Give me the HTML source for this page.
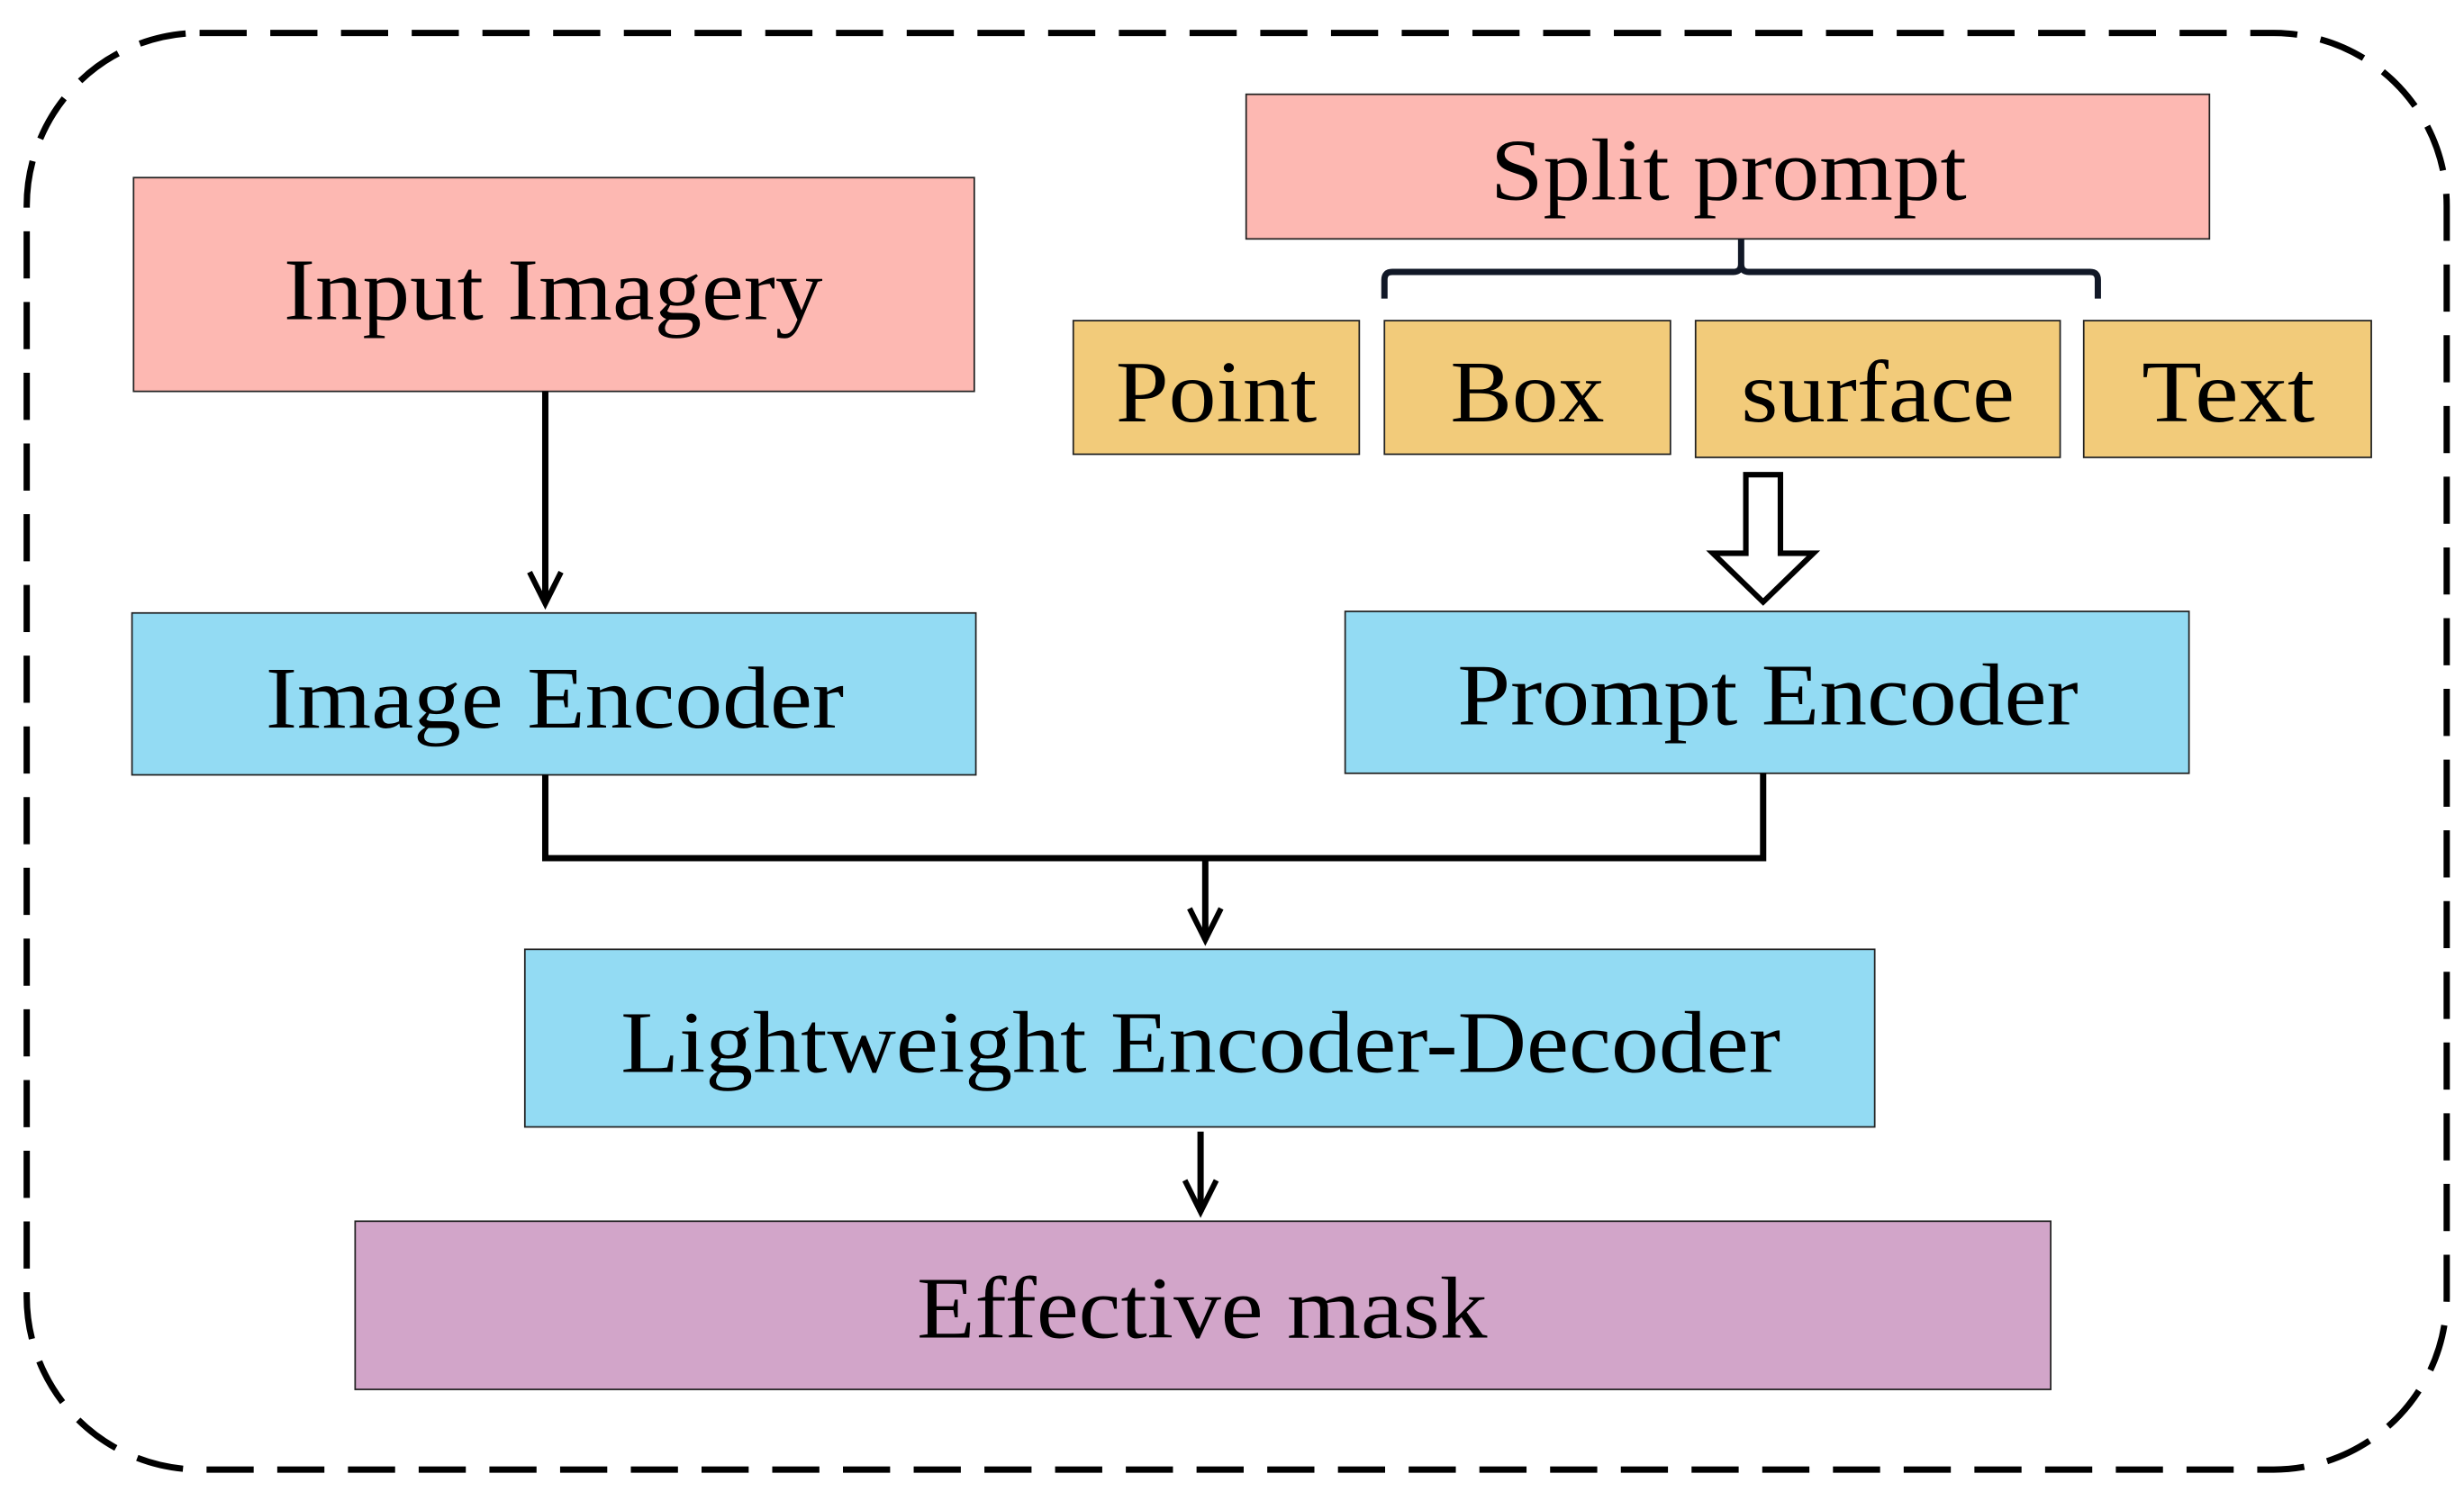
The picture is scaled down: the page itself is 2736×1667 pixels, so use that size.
<!DOCTYPE html>
<html><head><meta charset="utf-8"><style>
html,body{margin:0;padding:0;background:#fff;}
svg{display:block;}
text{font-family:"Liberation Serif",serif;fill:#000;}
</style></head><body>
<svg width="2736" height="1667" viewBox="0 0 1568 955" preserveAspectRatio="none" xmlns="http://www.w3.org/2000/svg">
<rect x="17" y="21" width="1540" height="914" rx="110" ry="110" fill="none" stroke="#000" stroke-width="4" stroke-dasharray="30,15"/>
<g stroke="#222" stroke-width="1">
<rect x="85" y="113" width="535" height="136" fill="#FDB8B2"/>
<rect x="793" y="60" width="613" height="92" fill="#FDB8B2"/>
<rect x="683" y="204" width="182" height="85" fill="#F2CB7A"/>
<rect x="881" y="204" width="182" height="85" fill="#F2CB7A"/>
<rect x="1079" y="204" width="232" height="87" fill="#F2CB7A"/>
<rect x="1326" y="204" width="183" height="87" fill="#F2CB7A"/>
<rect x="84" y="390" width="537" height="103" fill="#93DBF3"/>
<rect x="856" y="389" width="537" height="103" fill="#93DBF3"/>
<rect x="334" y="604" width="859" height="113" fill="#93DBF3"/>
<rect x="226" y="777" width="1079" height="107" fill="#D2A5C9"/>
</g>
<g fill="none" stroke="#000" stroke-width="4">
<path d="M881,190 V178 Q881,173 886,173 H1103 Q1108,173 1108,168 V152 M1108,168 Q1108,173 1113,173 H1330 Q1335,173 1335,178 V190" stroke="#111827"/>
<path d="M347,249 V384"/>
<path d="M337,364 L347,384 L357,364" stroke-width="3.5"/>
<path d="M347,493 V546 H1122 V492"/>
<path d="M767,546 V598"/>
<path d="M757,578 L767,598 L777,578" stroke-width="3.5"/>
<path d="M764,720 V771"/>
<path d="M754,751 L764,771 L774,751" stroke-width="3.5"/>
<path d="M1111,302 H1133 V352 H1154 L1122,383 L1090,352 H1111 Z" fill="#fff" stroke-width="3.5"/>
</g>
<g font-size="56" text-anchor="middle">
<text x="352" y="203" textLength="343" lengthAdjust="spacingAndGlyphs">Input Imagery</text>
<text x="1100" y="127" textLength="303" lengthAdjust="spacingAndGlyphs">Split prompt</text>
<text x="774" y="268" textLength="128" lengthAdjust="spacingAndGlyphs">Point</text>
<text x="972" y="268" textLength="98" lengthAdjust="spacingAndGlyphs">Box</text>
<text x="1195" y="268" textLength="174" lengthAdjust="spacingAndGlyphs">surface</text>
<text x="1418" y="268" textLength="110" lengthAdjust="spacingAndGlyphs">Text</text>
<text x="353" y="463" textLength="368" lengthAdjust="spacingAndGlyphs">Image Encoder</text>
<text x="1125" y="461" textLength="395" lengthAdjust="spacingAndGlyphs">Prompt Encoder</text>
<text x="764" y="682" textLength="738" lengthAdjust="spacingAndGlyphs">Lightweight Encoder-Decoder</text>
<text x="765" y="851" textLength="363" lengthAdjust="spacingAndGlyphs">Effective mask</text>
</g>
</svg>
</body></html>
